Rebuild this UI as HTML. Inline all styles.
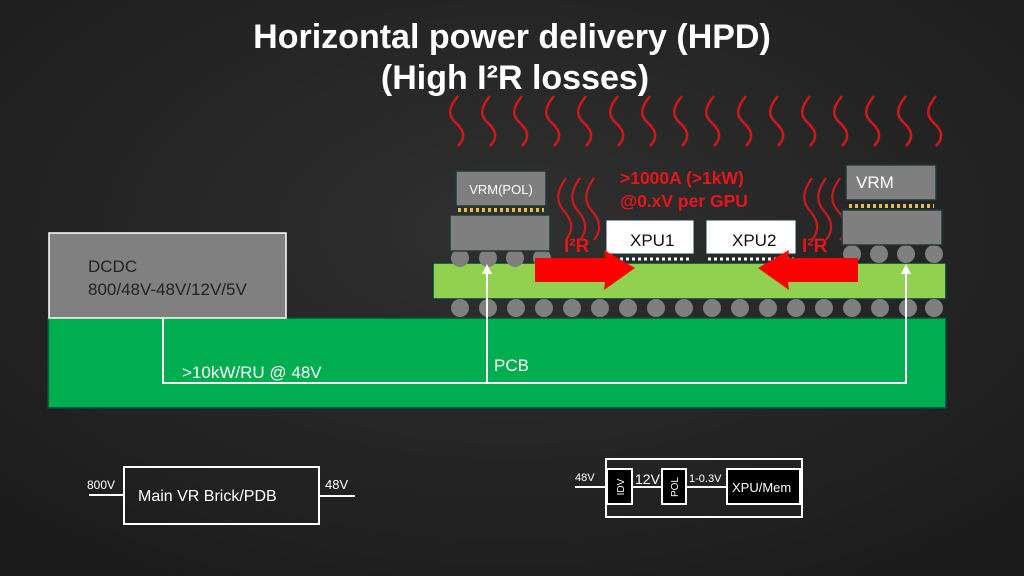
<!DOCTYPE html>
<html><head><meta charset="utf-8"><style>
html,body{margin:0;padding:0;background:#2a2a2a;}
svg{display:block;}
text{font-family:"Liberation Sans",sans-serif;}
</style></head><body>
<svg width="1024" height="576" viewBox="0 0 1024 576">
<defs>
<radialGradient id="bg" cx="50%" cy="40%" r="70%"><stop offset="0" stop-color="#303030"/><stop offset="1" stop-color="#1c1c1c"/></radialGradient>
<path id="sq" d="M6 0 C-4 12,-4 20,4 27 S14 42,6 50" fill="none" stroke="#d0181a" stroke-width="2.5"/>
<path id="sq2" d="M6 0 C-4 14,-4 24,4 33 S14 52,6 62" fill="none" stroke="#d0181a" stroke-width="2.2"/>
</defs>
<rect width="1024" height="576" fill="url(#bg)"/>
<text x="512" y="48" fill="#fff" font-size="34" font-weight="bold" text-anchor="middle">Horizontal power delivery (HPD)</text>
<text x="515" y="89" fill="#fff" font-size="34" font-weight="bold" text-anchor="middle">(High I²R losses)</text>
<g>
<use href="#sq" x="452" y="96"/><use href="#sq" x="484" y="96"/><use href="#sq" x="516" y="96"/><use href="#sq" x="548" y="96"/>
<use href="#sq" x="580" y="96"/><use href="#sq" x="612" y="96"/><use href="#sq" x="644" y="96"/><use href="#sq" x="676" y="96"/>
<use href="#sq" x="708" y="96"/><use href="#sq" x="740" y="96"/><use href="#sq" x="772" y="96"/><use href="#sq" x="804" y="96"/>
<use href="#sq" x="836" y="96"/><use href="#sq" x="868" y="96"/><use href="#sq" x="900" y="96"/><use href="#sq" x="930" y="96"/>
<use href="#sq2" x="560" y="178"/><use href="#sq2" x="574" y="178"/><use href="#sq2" x="588" y="178"/>
<use href="#sq2" x="806" y="178"/><use href="#sq2" x="820" y="178"/><use href="#sq2" x="834" y="178"/>
</g>
<rect x="48" y="318" width="898" height="90" fill="#00ad4f" stroke="#0b4a40" stroke-width="1.5"/>
<rect x="49" y="233" width="237" height="85" fill="#808080" stroke="#fff" stroke-width="1.5"/>
<text x="88" y="272" fill="#222" font-size="17">DCDC</text>
<text x="88" y="295" fill="#222" font-size="17">800/48V-48V/12V/5V</text>
<rect x="433" y="263" width="513" height="36" fill="#92d050" stroke="#0b3a36" stroke-width="1.5"/>
<g fill="#7f7f7f">
<circle cx="460" cy="308" r="9"/><circle cx="488" cy="308" r="9"/><circle cx="516" cy="308" r="9"/><circle cx="544" cy="308" r="9"/>
<circle cx="572" cy="308" r="9"/><circle cx="600" cy="308" r="9"/><circle cx="628" cy="308" r="9"/><circle cx="656" cy="308" r="9"/>
<circle cx="684" cy="308" r="9"/><circle cx="712" cy="308" r="9"/><circle cx="740" cy="308" r="9"/><circle cx="768" cy="308" r="9"/>
<circle cx="796" cy="308" r="9"/><circle cx="824" cy="308" r="9"/><circle cx="852" cy="308" r="9"/><circle cx="880" cy="308" r="9"/>
<circle cx="908" cy="308" r="9"/><circle cx="934" cy="308" r="9"/>
<circle cx="460" cy="258" r="9"/><circle cx="488" cy="258" r="9"/><circle cx="515" cy="258" r="9"/><circle cx="542" cy="258" r="9"/>
<circle cx="852" cy="254" r="9"/><circle cx="879" cy="254" r="9"/><circle cx="906" cy="254" r="9"/><circle cx="934" cy="254" r="9"/>
</g>
<rect x="456" y="171" width="90" height="35" fill="#7f7f7f" stroke="#1c3a3a" stroke-width="1.5"/>
<text x="501" y="194" fill="#fff" font-size="13" text-anchor="middle">VRM(POL)</text>
<line x1="458" y1="210" x2="544" y2="210" stroke="#e6c23c" stroke-width="4" stroke-dasharray="3,3"/>
<rect x="450" y="215" width="100" height="36" fill="#7f7f7f" stroke="#1c3a3a" stroke-width="1.5"/>
<rect x="846" y="165" width="90" height="35" fill="#7f7f7f" stroke="#1c3a3a" stroke-width="1.5"/>
<text x="856" y="188" fill="#fff" font-size="17">VRM</text>
<line x1="849" y1="206" x2="934" y2="206" stroke="#e6c23c" stroke-width="4" stroke-dasharray="3,3"/>
<rect x="842" y="210" width="100" height="35" fill="#7f7f7f" stroke="#1c3a3a" stroke-width="1.5"/>
<rect x="606" y="220" width="88" height="34" fill="#fff" stroke="#1c3a3a"/>
<text x="630" y="246" fill="#111" font-size="17">XPU1</text>
<rect x="706" y="220" width="90" height="34" fill="#fff" stroke="#1c3a3a"/>
<text x="732" y="246" fill="#111" font-size="17">XPU2</text>
<line x1="608" y1="259" x2="692" y2="259" stroke="#fff" stroke-width="3" stroke-dasharray="3,3"/>
<line x1="708" y1="259" x2="794" y2="259" stroke="#fff" stroke-width="3" stroke-dasharray="3,3"/>
<polygon points="535,258 605,258 604,250 635,268 604,290 605,282 535,282" fill="#ff0000"/>
<polygon points="858,258 788,258 789,250 758,268 789,290 788,282 858,282" fill="#ff0000"/>
<text x="564" y="252" fill="#e8151a" font-size="19" font-weight="bold">I²R</text>
<text x="802" y="252" fill="#e8151a" font-size="19" font-weight="bold">I²R</text>
<text x="620" y="184" fill="#e8151a" font-size="17.5" font-weight="bold">&gt;1000A (&gt;1kW)</text>
<text x="620" y="207" fill="#e8151a" font-size="17.5" font-weight="bold">@0.xV per GPU</text>
<polyline points="163,318 163,383 906,383 906,270" fill="none" stroke="#fff" stroke-width="2"/>
<line x1="487" y1="383" x2="487" y2="270" stroke="#fff" stroke-width="2"/>
<polygon points="487,264 482,274 492,274" fill="#fff"/>
<polygon points="906,264 901,274 911,274" fill="#fff"/>
<text x="182" y="378" fill="#fff" font-size="17">&gt;10kW/RU @ 48V</text>
<text x="494" y="371" fill="#fff" font-size="17">PCB</text>
<rect x="124" y="467" width="195" height="57" fill="none" stroke="#fff" stroke-width="2"/>
<line x1="89" y1="495" x2="124" y2="495" stroke="#fff" stroke-width="2"/>
<line x1="319" y1="496" x2="355" y2="496" stroke="#fff" stroke-width="2"/>
<text x="87" y="489" fill="#fff" font-size="12">800V</text>
<text x="325" y="489" fill="#fff" font-size="13">48V</text>
<text x="138" y="501" fill="#fff" font-size="16">Main VR Brick/PDB</text>
<rect x="606" y="459" width="196" height="58" fill="none" stroke="#fff" stroke-width="2"/>
<line x1="575" y1="487" x2="727" y2="487" stroke="#fff" stroke-width="2"/>
<rect x="607" y="469" width="25" height="35" fill="#000" stroke="#fff" stroke-width="2"/>
<rect x="662" y="469" width="24" height="35" fill="#000" stroke="#fff" stroke-width="2"/>
<rect x="727" y="469" width="73" height="35" fill="#000" stroke="#fff" stroke-width="2"/>
<text x="575" y="481" fill="#fff" font-size="11">48V</text>
<text x="635" y="484" fill="#fff" font-size="14">12V</text>
<text x="689" y="482" fill="#fff" font-size="11">1-0.3V</text>
<text x="732" y="492" fill="#fff" font-size="13">XPU/Mem</text>
<text x="624" y="487" fill="#fff" font-size="10" transform="rotate(-90 624 487)" text-anchor="middle">IDV</text>
<text x="678" y="487" fill="#fff" font-size="10" transform="rotate(-90 678 487)" text-anchor="middle">POL</text>
</svg>
</body></html>
